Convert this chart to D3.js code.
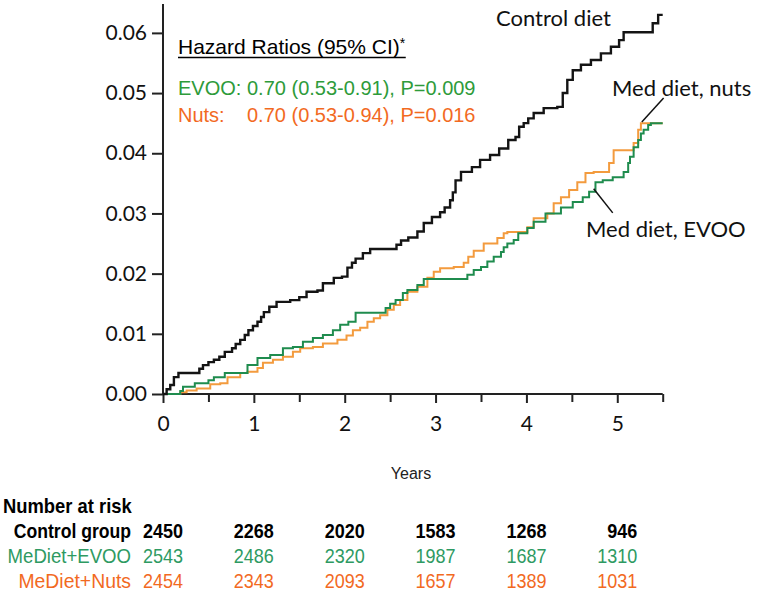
<!DOCTYPE html>
<html>
<head>
<meta charset="utf-8">
<script src="https://cdn.jsdelivr.net/npm/d3@7"></script>
<style>
  html, body { margin: 0; padding: 0; background: #fff; }
  svg { display: block; }
</style>
</head>
<body>
<svg id="chart" width="757" height="597"></svg>
<script>
// ---------------- DATA ----------------
const yTicks = [0, 0.01, 0.02, 0.03, 0.04, 0.05, 0.06];
const xTicks = [0, 0.5, 1, 1.5, 2, 2.5, 3, 3.5, 4, 4.5, 5, 5.5];

// Control diet: event times (years) and cumulative incidence after each step
const controlT = [0, 0.04, 0.08, 0.12, 0.17, 0.40, 0.44, 0.50, 0.56, 0.62, 0.68, 0.76, 0.80, 0.85, 0.90, 0.94, 0.99, 1.04, 1.08, 1.11, 1.17, 1.25, 1.40, 1.50, 1.58, 1.70, 1.76, 1.88, 1.97, 2.03, 2.08, 2.12, 2.20, 2.28, 2.57, 2.62, 2.70, 2.80, 2.87, 2.96, 3.05, 3.10, 3.16, 3.19, 3.22, 3.28, 3.40, 3.49, 3.60, 3.70, 3.80, 3.88, 3.92, 3.97, 4.02, 4.08, 4.19, 4.34, 4.40, 4.45, 4.51, 4.60, 4.71, 4.82, 4.93, 5.02, 5.07, 5.39, 5.45, 5.50];
const controlV = [0, 0.0008, 0.0015, 0.0028, 0.0035, 0.0042, 0.0048, 0.0053, 0.0057, 0.0062, 0.0070, 0.0076, 0.0083, 0.0090, 0.0098, 0.0106, 0.0113, 0.0120, 0.0128, 0.0136, 0.0145, 0.0153, 0.0156, 0.0161, 0.0170, 0.0172, 0.0184, 0.0193, 0.0195, 0.0210, 0.0218, 0.0225, 0.0234, 0.0241, 0.0248, 0.0255, 0.0260, 0.0270, 0.0284, 0.0294, 0.0302, 0.0310, 0.0322, 0.0335, 0.0355, 0.0369, 0.0377, 0.0389, 0.0397, 0.0408, 0.0422, 0.0427, 0.0444, 0.0450, 0.0458, 0.0467, 0.0475, 0.0477, 0.0500, 0.0522, 0.0538, 0.0547, 0.0555, 0.0566, 0.0577, 0.0588, 0.0601, 0.0616, 0.0630, 0.0630];

// Med diet + EVOO
const evooT = [0, 0.19, 0.22, 0.35, 0.50, 0.56, 0.68, 0.93, 1.04, 1.18, 1.32, 1.43, 1.54, 1.65, 1.76, 1.87, 1.95, 2.04, 2.12, 2.45, 2.50, 2.56, 2.64, 2.69, 2.80, 2.87, 3.35, 3.42, 3.50, 3.57, 3.64, 3.72, 3.75, 3.79, 3.86, 3.91, 4.01, 4.08, 4.21, 4.38, 4.51, 4.62, 4.69, 4.76, 4.84, 4.95, 5.07, 5.12, 5.14, 5.18, 5.23, 5.26, 5.29, 5.34, 5.37, 5.50];
const evooV = [0, 0.0005, 0.0012, 0.0018, 0.0023, 0.0028, 0.0035, 0.0048, 0.0060, 0.0065, 0.0076, 0.0078, 0.0087, 0.0093, 0.0098, 0.0106, 0.0115, 0.0120, 0.0135, 0.0143, 0.0150, 0.0156, 0.0168, 0.0173, 0.0181, 0.0191, 0.0198, 0.0206, 0.0211, 0.0220, 0.0228, 0.0236, 0.0244, 0.0250, 0.0256, 0.0267, 0.0276, 0.0286, 0.0300, 0.0310, 0.0319, 0.0327, 0.0336, 0.0352, 0.0355, 0.0360, 0.0369, 0.0384, 0.0394, 0.0410, 0.0422, 0.0433, 0.0439, 0.0447, 0.0450, 0.0450];

// Med diet + nuts
const nutsT = [0, 0.19, 0.26, 0.37, 0.52, 0.63, 0.71, 0.85, 0.93, 1.04, 1.10, 1.21, 1.32, 1.43, 1.51, 1.65, 1.76, 1.92, 2.02, 2.09, 2.17, 2.25, 2.32, 2.39, 2.47, 2.54, 2.61, 2.69, 2.80, 2.91, 2.98, 3.05, 3.20, 3.31, 3.36, 3.42, 3.53, 3.68, 3.75, 3.79, 4.01, 4.08, 4.23, 4.30, 4.38, 4.47, 4.56, 4.65, 4.74, 4.91, 4.96, 5.18, 5.23, 5.26, 5.50];
const nutsV = [0, 0.0003, 0.0006, 0.0009, 0.0016, 0.0018, 0.0028, 0.0035, 0.0037, 0.0043, 0.0052, 0.0057, 0.0062, 0.0070, 0.0076, 0.0078, 0.0084, 0.0090, 0.0097, 0.0106, 0.0110, 0.0120, 0.0126, 0.0131, 0.0140, 0.0148, 0.0156, 0.0170, 0.0178, 0.0193, 0.0203, 0.0209, 0.0211, 0.0218, 0.0228, 0.0238, 0.0250, 0.0259, 0.0267, 0.0269, 0.0277, 0.0292, 0.0300, 0.0317, 0.0327, 0.0339, 0.0352, 0.0367, 0.0369, 0.0384, 0.0405, 0.0417, 0.0439, 0.0450, 0.0450];

// Number at risk
const riskYears = [0, 1, 2, 3, 4, 5];
const riskControl = [2450, 2268, 2020, 1583, 1268, 946];
const riskEvoo = [2543, 2486, 2320, 1987, 1687, 1310];
const riskNuts = [2454, 2343, 2093, 1657, 1389, 1031];
const riskLabels = ["Control group", "MeDiet+EVOO", "MeDiet+Nuts"];

const hrTitle = "Hazard Ratios (95% CI)";
const hrLines = [
  { name: "EVOO:", text: "0.70 (0.53-0.91), P=0.009" },
  { name: "Nuts:", text: "0.70 (0.53-0.94), P=0.016" }
];

// ---------------- STYLE ----------------
const C_BLACK = "#141414";
const C_GREEN_LINE = "#1f8c4e";
const C_ORANGE_LINE = "#f39b3e";
const C_GREEN_TXT = "#2e9b3a";
const C_ORANGE_TXT = "#f26a1f";
const C_GREEN_RISK = "#2e9a62";
const C_ORANGE_RISK = "#f26a1f";
const tickFont = "Lato, 'Open Sans', sans-serif";
const arial = "'Liberation Sans', Arial, sans-serif";

const svg = d3.select("#chart");

const x = d3.scaleLinear().domain([0, 5.5]).range([163, 662.7]);
const y = d3.scaleLinear().domain([0, 0.0648]).range([394, 4]);

// Y axis
const yAxis = d3.axisLeft(y).tickValues(yTicks).tickFormat(d3.format(".2f")).tickSize(11).tickPadding(5);
const gy = svg.append("g").attr("transform", `translate(${x(0)},0)`).call(yAxis);
gy.select(".domain").attr("stroke", "#222").attr("stroke-width", 2)
  .attr("d", `M0,${y(0.0648)}V${y(0)}`);
gy.selectAll(".tick line").attr("stroke", "#222").attr("stroke-width", 2);
gy.selectAll(".tick text").attr("font-family", tickFont).attr("font-size", 21).attr("fill", "#111");

// X axis
const xAxis = d3.axisBottom(x).tickValues(xTicks)
  .tickFormat(d => Number.isInteger(d) ? String(d) : "").tickSize(8).tickPadding(14);
const gx = svg.append("g").attr("transform", `translate(0,${y(0)})`).call(xAxis);
gx.select(".domain").attr("stroke", "#222").attr("stroke-width", 2).attr("d", `M${x(0)},0H${x(5.5)}`);
gx.selectAll(".tick line").attr("stroke", "#222").attr("stroke-width", 2)
  .attr("y2", d => Number.isInteger(d) ? 9 : 8);
gx.selectAll(".tick text").attr("font-family", tickFont).attr("font-size", 21).attr("fill", "#111");

// Curves
const line = d3.line().x(d => x(d[0])).y(d => y(d[1])).curve(d3.curveStepAfter);
const zip = (t, v) => t.map((tt, i) => [tt, v[i]]);

svg.append("path").datum(zip(nutsT, nutsV)).attr("d", line)
  .attr("fill", "none").attr("stroke", C_ORANGE_LINE).attr("stroke-width", 2);
svg.append("path").datum(zip(evooT, evooV)).attr("d", line)
  .attr("fill", "none").attr("stroke", C_GREEN_LINE).attr("stroke-width", 2);
svg.append("path").datum(zip(controlT, controlV)).attr("d", line)
  .attr("fill", "none").attr("stroke", C_BLACK).attr("stroke-width", 2.4);

// Curve labels
const labelFont = "Lato, 'Open Sans', sans-serif";
svg.append("text").attr("x", 496).attr("y", 26).text("Control diet")
  .attr("font-family", labelFont).attr("font-size", 22).attr("fill", "#111");
svg.append("text").attr("x", 612).attr("y", 96).text("Med diet, nuts")
  .attr("font-family", labelFont).attr("font-size", 22).attr("fill", "#111");
svg.append("text").attr("x", 586).attr("y", 237).text("Med diet, EVOO")
  .attr("font-family", labelFont).attr("font-size", 22).attr("fill", "#111");
// leader lines (in data coordinates)
svg.append("line").attr("x1", x(5.51)).attr("y1", y(0.0492)).attr("x2", x(5.27)).attr("y2", y(0.0452))
  .attr("stroke", "#111").attr("stroke-width", 1.5);
svg.append("line").attr("x1", x(4.74)).attr("y1", y(0.0341)).attr("x2", x(4.95)).attr("y2", y(0.0301))
  .attr("stroke", "#111").attr("stroke-width", 1.5);

// Hazard ratio box
const hr = svg.append("g");
const title = hr.append("text").attr("x", 178).attr("y", 54)
  .attr("font-family", arial).attr("font-size", 21).attr("fill", "#000");
title.append("tspan").text(hrTitle);
title.append("tspan").text("*").attr("font-size", 14).attr("dy", -6);
const tw = title.node().getBBox().width;
hr.append("line").attr("x1", 178).attr("x2", 178 + tw).attr("y1", 57.5).attr("y2", 57.5)
  .attr("stroke", "#000").attr("stroke-width", 1.5);
const hrColors = [C_GREEN_TXT, C_ORANGE_TXT];
hrLines.forEach((l, i) => {
  const t = hr.append("text").attr("y", 95 + i * 27).attr("font-family", arial)
    .attr("font-size", 20).attr("fill", hrColors[i]);
  t.append("tspan").attr("x", 178).text(l.name);
  t.append("tspan").attr("x", 247).text(l.text);
});

// X title
svg.append("text").attr("x", 411).attr("y", 479).attr("text-anchor", "middle")
  .attr("font-family", arial).attr("font-size", 16).attr("fill", "#222").text("Years");

// Number at risk (condensed look via horizontal scale)
function narrowText(px, py, str, opts) {
  const g = svg.append("g").attr("transform", `translate(${px},${py}) scale(${opts.sx},1)`);
  return g.append("text").attr("x", 0).attr("y", 0).text(str)
    .attr("text-anchor", opts.anchor || "start")
    .attr("font-family", arial).attr("font-size", opts.size)
    .attr("font-weight", opts.weight || "normal").attr("fill", opts.color);
}
narrowText(3, 513, "Number at risk", { sx: 0.92, size: 20, weight: "bold", color: "#000" });
const rows = [
  { label: riskLabels[0], vals: riskControl, color: "#000", weight: "bold", sx: 0.88 },
  { label: riskLabels[1], vals: riskEvoo, color: C_GREEN_RISK, weight: "normal", sx: 0.93 },
  { label: riskLabels[2], vals: riskNuts, color: C_ORANGE_RISK, weight: "normal", sx: 0.97 }
];
rows.forEach((r, i) => {
  const yy = 538 + i * 25;
  narrowText(131, yy, r.label, { sx: r.sx, size: 20, weight: r.weight, color: r.color, anchor: "end" });
  riskYears.forEach((yr, j) => {
    narrowText(x(yr) + 20, yy, String(r.vals[j]), { sx: 0.9, size: 20, weight: r.weight, color: r.color, anchor: "end" });
  });
});
</script>
</body>
</html>
